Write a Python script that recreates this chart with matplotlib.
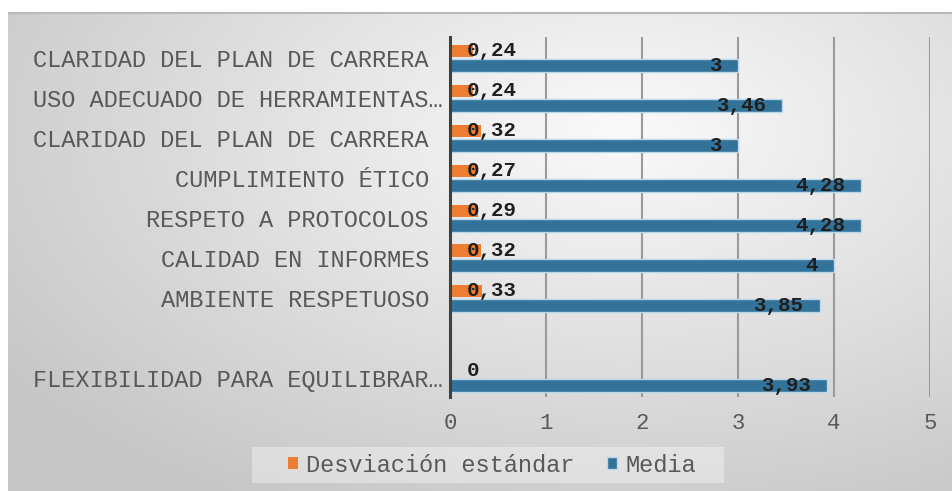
import numpy as np
import matplotlib
matplotlib.use("Agg")
import matplotlib.pyplot as plt
from matplotlib.transforms import ScaledTranslation, blended_transform_factory
from matplotlib.patches import Rectangle

# ---------------- data ----------------
categories = [
    "CLARIDAD DEL PLAN DE CARRERA",
    "USO ADECUADO DE HERRAMIENTAS…",
    "CLARIDAD DEL PLAN DE CARRERA",
    "CUMPLIMIENTO ÉTICO",
    "RESPETO A PROTOCOLOS",
    "CALIDAD EN INFORMES",
    "AMBIENTE RESPETUOSO",
    "",
    "FLEXIBILIDAD PARA EQUILIBRAR…",
]
desviacion = [0.24, 0.24, 0.32, 0.27, 0.29, 0.32, 0.33, np.nan, 0]
media = [3, 3.46, 3, 4.28, 4.28, 4, 3.85, np.nan, 3.93]
series_names = ["Desviación estándar", "Media"]
xticks = [0, 1, 2, 3, 4, 5]

ORANGE = "#ED7D31"
BLUE = "#33739A"
TXT = "#595959"
FONT = "Liberation Mono"

W, H = 953, 491
fig = plt.figure(figsize=(W / 100, H / 100), dpi=100)
fig.patch.set_facecolor("white")

# ---------------- gradient background ----------------
bg = fig.add_axes([8 / W, 0, (W - 8) / W, (H - 12) / H], zorder=0)
nx, ny = 500, 260
X, Y = np.meshgrid(np.linspace(0, 1, nx), np.linspace(0, 1, ny))
r = np.sqrt(((X - 0.65) / 0.8) ** 2 + ((Y - 0.25) / 0.9) ** 2)
t = np.clip(r, 0, 1)
inner, outer = 250 / 255, 198 / 255
g = inner + (outer - inner) * t
bg.imshow(np.dstack([g, g, g]), aspect="auto", extent=[0, 1, 1, 0])
bg.set_xlim(0, 1)
bg.set_ylim(1, 0)
bg.axis("off")
bg.plot([0, 1], [0.002, 0.002], color="#b8b8b8", lw=1.5, solid_capstyle="butt")

# ---------------- main axes ----------------
top_px, bot_px = 36.7, 396.7
ax = fig.add_axes([450 / W, 1 - bot_px / H, 480 / W, (bot_px - top_px) / H], zorder=2)
ax.set_facecolor("none")
n = len(categories)
y = np.arange(n)

b1 = ax.barh(y - 0.15, desviacion, height=0.31, color=ORANGE, label=series_names[0], zorder=3)
b2 = ax.barh(y + 0.22, media, height=0.34, color=BLUE, edgecolor="#bcd6ea", linewidth=1,
             label=series_names[1], zorder=3)

ax.set_xlim(0, 5)
ax.set_ylim(n - 0.5, -0.5)
ax.set_xticks(xticks)
ax.set_xticklabels([str(v) for v in xticks], fontfamily=FONT, fontsize=16, color=TXT)
ax.tick_params(axis="x", length=0, pad=12)
ax.set_yticks([])
ax.grid(axis="x", color="#9a9a9a", lw=1.5, zorder=1)
for s in ["top", "right", "bottom"]:
    ax.spines[s].set_visible(False)
ax.spines["left"].set_color("#404040")
ax.spines["left"].set_linewidth(2.2)
ax.spines["left"].set_zorder(4)


def fmt(v):
    return f"{v:g}".replace(".", ",")


off_l = ScaledTranslation(17 / 100, 0, fig.dpi_scale_trans)
off_r = ScaledTranslation(-16 / 100, 0, fig.dpi_scale_trans)
for i in range(n):
    if not np.isnan(desviacion[i]):
        ax.text(0, y[i] - 0.15, fmt(desviacion[i]), transform=ax.transData + off_l,
                ha="left", va="center", fontfamily=FONT, fontsize=15,
                fontweight="bold", color="#1f1f1f", zorder=5)
    if not np.isnan(media[i]):
        ax.text(media[i], y[i] + 0.22, fmt(media[i]), transform=ax.transData + off_r,
                ha="right", va="center", fontfamily=FONT, fontsize=15,
                fontweight="bold", color="#1f1f1f", zorder=5)

# category labels
blend = blended_transform_factory(ax.transAxes, ax.transData)
for i, lab in enumerate(categories):
    dx = -7 if lab.endswith("…") else -21
    ax.text(0, y[i] + 0.03, lab, transform=blend + ScaledTranslation(dx / 100, 0, fig.dpi_scale_trans),
            ha="right", va="center_baseline", fontfamily=FONT, fontsize=17, color=TXT)

# ---------------- legend ----------------
fig.patches.append(Rectangle((252 / W, 1 - 483 / H), 472 / W, 36 / H, transform=fig.transFigure,
                             facecolor="white", alpha=0.35, edgecolor="none", zorder=1))
leg = fig.legend(handles=[b1, b2], labels=series_names, loc="center",
                 bbox_to_anchor=(492 / W, 1 - 465 / H), ncol=2, frameon=False,
                 handlelength=0.42, handleheight=0.42, handletextpad=0.35,
                 columnspacing=1.4, prop={"family": FONT, "size": 17})
for tx in leg.get_texts():
    tx.set_color(TXT)

fig.savefig("out.png", dpi=100, facecolor="white")
